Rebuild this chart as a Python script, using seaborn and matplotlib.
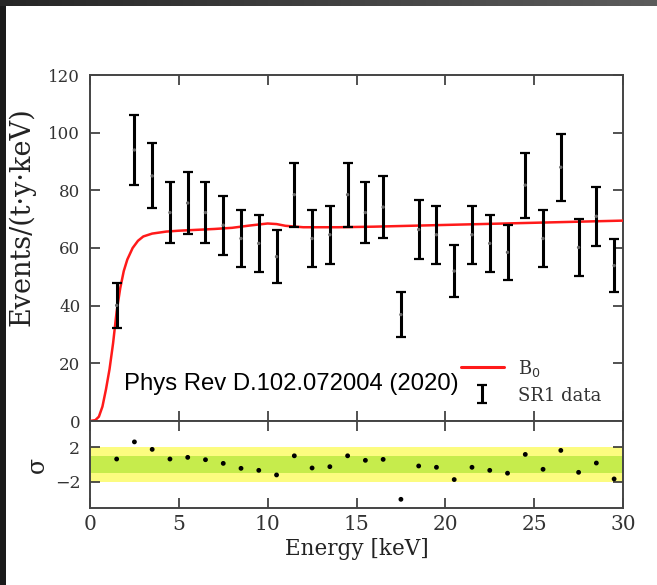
import numpy as np
import pandas as pd
import matplotlib
matplotlib.use("Agg")
import matplotlib.pyplot as plt
from matplotlib.lines import Line2D
import seaborn as sns

# ---- data ----
energy = [1.5, 2.5, 3.5, 4.5, 5.5, 6.5, 7.5, 8.5, 9.5, 10.5, 11.5, 12.5, 13.5, 14.5, 15.5,
          16.5, 17.5, 18.5, 19.5, 20.5, 21.5, 22.5, 23.5, 24.5, 25.5, 26.5, 27.5, 28.5, 29.5]
rate = [40.1, 94.0, 85.0, 72.3, 75.6, 72.3, 67.9, 63.3, 61.6, 57.0, 78.5, 63.3, 64.6, 78.5, 72.3,
        74.2, 36.9, 66.4, 64.6, 52.0, 64.6, 61.6, 58.5, 81.8, 63.3, 88.0, 60.2, 71.0, 53.9]
rate_err = [7.7, 12.0, 11.3, 10.6, 10.9, 10.6, 10.3, 9.8, 9.8, 9.3, 11.1, 9.8, 10.0, 11.1, 10.6,
            10.8, 7.7, 10.3, 10.0, 9.0, 10.0, 9.8, 9.5, 11.3, 9.8, 11.7, 9.8, 10.3, 9.3]
resid = [0.63, 2.6, 1.74, 0.63, 0.82, 0.55, 0.13, -0.44, -0.67, -1.2, 1.0, -0.4, -0.25, 1.0, 0.48,
         0.59, -4.0, -0.17, -0.32, -1.73, -0.32, -0.67, -1.0, 1.16, -0.55, 1.62, -0.9, 0.17, -1.66]

b0_energy = [0.0, 0.3, 0.5, 0.7, 0.9, 1.1, 1.3, 1.5, 1.7, 1.9, 2.1, 2.4, 2.7, 3.0, 3.5, 4.3,
             5.0, 6.0, 7.0, 8.0, 9.0, 10.0, 10.5, 11.0, 12.0, 14.0, 16.0, 18.0, 20.0, 22.0,
             24.0, 26.0, 28.0, 30.0]
b0_rate = [0.0, 0.3, 1.5, 5.0, 11.0, 18.0, 27.0, 38.0, 46.0, 52.0, 56.0, 60.0, 62.5, 64.0, 65.0,
           65.7, 66.0, 66.3, 66.6, 67.0, 67.8, 68.5, 68.3, 67.7, 67.2, 67.2, 67.4, 67.7, 68.0,
           68.3, 68.6, 68.9, 69.2, 69.5]

y_ticks = [0, 20, 40, 60, 80, 100, 120]
x_ticks = [0, 5, 10, 15, 20, 25, 30]
res_ticks = [-2, 2]
res_tick_labels = ["\u22122", "2"]

data = pd.DataFrame({"energy": energy, "rate": rate, "err": rate_err, "resid": resid})
b0 = pd.DataFrame({"energy": b0_energy, "rate": b0_rate})

# ---- style ----
sns.set_style("ticks")
plt.rcParams["font.family"] = ["DejaVu Serif"]
plt.rcParams["axes.edgecolor"] = "#444444"
plt.rcParams["axes.linewidth"] = 1.4
tick_col = "#333333"

fig = plt.figure(figsize=(6.57, 5.85), dpi=100)
fig.patch.set_facecolor("white")

W, H = 657.0, 585.0
L, R = 90 / W, 623 / W
ax = fig.add_axes([L, 1 - 421 / H, R - L, (421 - 75) / H])
axr = fig.add_axes([L, 1 - 508 / H, R - L, (508 - 421) / H], sharex=ax)

# main panel
sns.lineplot(data=b0, x="energy", y="rate", ax=ax, color="#ff1a1a", linewidth=1.8,
             label="B$_0$", zorder=3)
eb = ax.errorbar(data["energy"], data["rate"], yerr=data["err"], fmt="none",
                 ecolor="black", elinewidth=2.2, capsize=3.5, capthick=1.6,
                 label="SR1 data", zorder=4)
sns.scatterplot(data=data, x="energy", y="rate", ax=ax, color="#666666", s=6,
                edgecolor="none", zorder=5, legend=False)

ax.set_xlim(0, 30)
ax.set_ylim(0, 120)
ax.set_yticks(y_ticks)
ax.set_xticks(x_ticks)
ax.tick_params(axis="both", direction="in", length=7, width=1.2, top=True, right=True,
               labelsize=12, pad=7, colors=tick_col, labelcolor=tick_col)
ax.tick_params(axis="x", labelbottom=False)
ax.set_xlabel("")
ax.set_ylabel("Events/(t\u00b7y\u00b7keV)", fontsize=19.5, color="#222222")
ax.yaxis.set_label_coords(-0.103, 0.59)

ax.text(0.063, 0.108, "Phys Rev D.102.072004 (2020)", transform=ax.transAxes,
        family=["Liberation Sans", "DejaVu Sans"], fontsize=17.2, color="black",
        ha="left", va="center")

handles = [Line2D([0], [0], color="#ff1a1a", lw=2.2), eb]
leg = ax.legend(handles, ["B$_0$", "SR1 data"], loc="lower left",
                bbox_to_anchor=(0.665, 0.0), frameon=False, fontsize=13,
                handlelength=2.4, handletextpad=0.8, labelspacing=0.45,
                labelcolor="#333333")

# residual panel
axr.axhspan(-2, 2, color="#fcfc80", lw=0, zorder=0)
axr.axhspan(-1, 1, color="#c6ec4c", lw=0, zorder=1)
sns.scatterplot(data=data, x="energy", y="resid", ax=axr, color="black", s=12,
                edgecolor="none", zorder=3, legend=False)
axr.set_ylim(-5, 5)
axr.set_xlim(0, 30)
axr.set_yticks(res_ticks)
axr.set_yticklabels(res_tick_labels)
axr.set_xticks(x_ticks)
axr.tick_params(axis="both", direction="in", length=7, width=1.2, top=True, right=True,
                labelsize=14.5, pad=5, colors=tick_col, labelcolor=tick_col)
axr.tick_params(axis="y", labelsize=12.5, pad=7)
axr.set_xlabel("Energy [keV]", fontsize=15.5, color="#222222", labelpad=3)
axr.set_ylabel("\u03c3", fontsize=17, color="#222222", labelpad=4)

# screenshot border strips
top = fig.add_axes([0, 1 - 6 / H, 1, 6 / H])
grad = np.linspace(0, 1, 256).reshape(1, -1)
top.imshow(grad, aspect="auto", cmap=matplotlib.colors.LinearSegmentedColormap.from_list(
    "g", ["#262626", "#5c5c5c"]))
top.set_axis_off()
left = fig.add_axes([0, 0, 6 / W, 1 - 6 / H])
left.set_facecolor("#1a1a1a")
left.set_xticks([]); left.set_yticks([])
for s in left.spines.values():
    s.set_visible(False)

fig.savefig("out.png", dpi=100)
